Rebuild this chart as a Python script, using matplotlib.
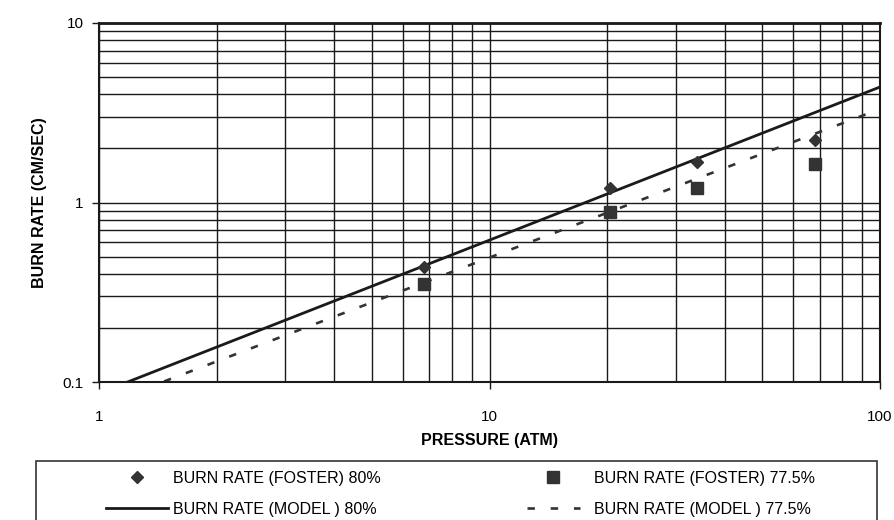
import matplotlib
matplotlib.use('Agg')
import matplotlib.pyplot as plt
from matplotlib.lines import Line2D
from matplotlib.patches import Rectangle
from matplotlib.ticker import LogLocator, NullFormatter, FixedLocator, FixedFormatter

plt.rcParams['font.family'] = ['Liberation Sans', 'DejaVu Sans']

# Foster data, pressure in atm (100, 300, 500, 1000 psi)
pressure_atm = [6.8, 20.4, 34.0, 68.0]
foster_80 = [0.44, 1.21, 1.69, 2.24]
foster_775 = [0.35, 0.88, 1.20, 1.63]

# model lines (straight on log-log, so just the end points)
model_p = [1.0, 100.0]
model_80 = [0.0866, 4.40]
model_775 = [0.0733, 3.32]

x_ticks = [1, 10, 100]
x_labels = ['1', '10', '100']
y_ticks = [0.1, 1, 10]
y_labels = ['0.1', '1', '10']

ink = '#1a1a1a'
dash = (0, (2.8, 6))

fig = plt.figure(figsize=(8.95, 5.2), dpi=100)
ax = fig.add_axes([99 / 895, 1 - 382 / 520, 781 / 895, 359 / 520])

ax.set_xscale('log')
ax.set_yscale('log')
ax.set_xlim(1, 100)
ax.set_ylim(0.1, 10)

# grid on every decade and sub-decade
ax.xaxis.set_major_locator(FixedLocator(x_ticks))
ax.xaxis.set_major_formatter(FixedFormatter(x_labels))
ax.yaxis.set_major_locator(FixedLocator(y_ticks))
ax.yaxis.set_major_formatter(FixedFormatter(y_labels))
ax.xaxis.set_minor_locator(LogLocator(base=10, subs=range(2, 10)))
ax.yaxis.set_minor_locator(LogLocator(base=10, subs=range(2, 10)))
ax.xaxis.set_minor_formatter(NullFormatter())
ax.yaxis.set_minor_formatter(NullFormatter())
ax.grid(which='both', color=ink, linewidth=1.0)
ax.set_axisbelow(True)

ax.tick_params(which='major', length=5, width=1, color=ink, labelsize=11)
ax.tick_params(which='minor', length=0)
ax.tick_params(axis='x', pad=15)
ax.tick_params(axis='y', pad=6)
for s in ax.spines.values():
    s.set_color(ink)
    s.set_linewidth(1.5)
ax.spines['top'].set_linewidth(2)

ax.plot(model_p, model_80, color=ink, lw=2.0, solid_capstyle='butt')
ax.plot(model_p, model_775, color='#333333', lw=1.9, linestyle=dash)
ax.plot(pressure_atm, foster_80, linestyle='none', marker='D', ms=6, color='#333333')
ax.plot(pressure_atm, foster_775, linestyle='none', marker='s', ms=8, color='#333333')

ax.set_xlabel('PRESSURE (ATM)', fontsize=11.5, fontweight='bold', labelpad=7)
ax.set_ylabel('BURN RATE (CM/SEC)', fontsize=11.5, fontweight='bold', labelpad=11)

# legend: box drawn by hand, two frameless columns inside it
fig.add_artist(Rectangle((36 / 895, -0.01), 841 / 895, (520 - 461) / 520 + 0.01,
                         transform=fig.transFigure, fill=False,
                         edgecolor='#333333', lw=1.2, clip_on=False))

h1 = [Line2D([], [], linestyle='none', marker='D', ms=6, color='#333333'),
      Line2D([], [], color=ink, lw=2.0)]
h2 = [Line2D([], [], linestyle='none', marker='s', ms=8, color='#333333'),
      Line2D([], [], color='#333333', lw=1.9, linestyle=dash)]

fig.legend(h1, ['BURN RATE (FOSTER) 80%', 'BURN RATE (MODEL ) 80%'],
           loc='upper left', bbox_to_anchor=(106 / 895, 1 - 471 / 520),
           frameon=False, fontsize=11.5, handlelength=3.9, handletextpad=0.3,
           labelspacing=1.0, borderpad=0, borderaxespad=0)
fig.legend(h2, ['BURN RATE (FOSTER) 77.5%', 'BURN RATE (MODEL ) 77.5%'],
           loc='upper left', bbox_to_anchor=(527 / 895, 1 - 471 / 520),
           frameon=False, fontsize=11.5, handlelength=3.3, handletextpad=0.9,
           labelspacing=1.0, borderpad=0, borderaxespad=0)

fig.savefig('out.png', dpi=100)
